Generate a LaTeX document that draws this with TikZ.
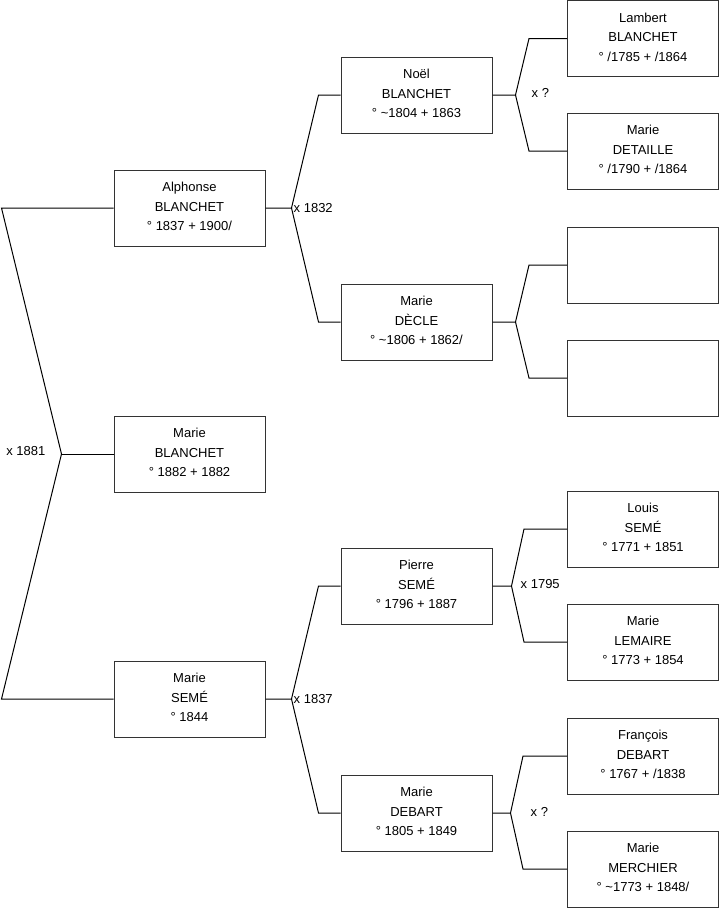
\documentclass[tikz,border=0pt]{standalone}
\usepackage{fontspec}
\setmainfont{Liberation Sans}
\usetikzlibrary{calc}

\tikzset{
  person/.style={draw=black!80,line width=1pt,minimum width=151pt,minimum height=76pt,
    align=center,inner sep=0pt,font=\fontsize{13}{19.5}\selectfont,
    execute at end node={\rule[-3pt]{0pt}{3pt}}},
  link/.style={line width=1pt,black},
  union/.style={inner sep=0pt,font=\fontsize{13}{15}\selectfont}
}

\begin{document}
\begin{tikzpicture}[x=1pt,y=-1pt]
  \useasboundingbox (0,0) rectangle (719,908);
  % generation 1
  \node[person] (alph) at (189.5,208) {Alphonse\\BLANCHET\\° 1837 + 1900/};
  \node[person] (mbla) at (189.5,454) {Marie\\BLANCHET\\° 1882 + 1882};
  \node[person] (mse) at (189.5,699) {Marie\\SEMÉ\\° 1844};
  % generation 2
  \node[person] (noel) at (416.5,95) {Noël\\BLANCHET\\° \textasciitilde1804 + 1863};
  \node[person] (decl) at (416.5,322) {Marie\\DÈCLE\\° \textasciitilde1806 + 1862/};
  \node[person] (pier) at (416.5,586) {Pierre\\SEMÉ\\° 1796 + 1887};
  \node[person] (deba) at (416.5,813) {Marie\\DEBART\\° 1805 + 1849};
  % generation 3
  \node[person] (lamb) at (643,38.5) {Lambert\\BLANCHET\\° /1785 + /1864};
  \node[person] (deta) at (643,151) {Marie\\DETAILLE\\° /1790 + /1864};
  \node[person] (unk1) at (643,265) {};
  \node[person] (unk2) at (643,378) {};
  \node[person] (loui) at (643,529) {Louis\\SEMÉ\\° 1771 + 1851};
  \node[person] (lema) at (643,642) {Marie\\LEMAIRE\\° 1773 + 1854};
  \node[person] (fran) at (643,756) {François\\DEBART\\° 1767 + /1838};
  \node[person] (merc) at (643,869) {Marie\\MERCHIER\\° \textasciitilde1773 + 1848/};

  % root fork
  \coordinate (r0) at ([xshift=-52pt]mbla.west);
  \draw[link] (alph.west) -- ([xshift=-112pt]alph.west) -- (r0) -- ([xshift=-112pt]mse.west) -- (mse.west);
  \draw[link] (r0) -- (mbla.west);
  \node[union,anchor=east] (m0) at ([xshift=-16pt,yshift=3pt]r0) {x 1881};

  % gen 1 to gen 2
  \draw[link] (alph.east) -- ++(26,0) coordinate (r1) -- ([xshift=-22pt]noel.west) -- (noel.west);
  \draw[link] (r1) -- ([xshift=-22pt]decl.west) -- (decl.west);
  \node[union,anchor=west] (m1) at ([xshift=2pt]r1) {x 1832};
  \draw[link] (mse.east) -- ++(26,0) coordinate (r2) -- ([xshift=-22pt]pier.west) -- (pier.west);
  \draw[link] (r2) -- ([xshift=-22pt]deba.west) -- (deba.west);
  \node[union,anchor=west] (m2) at ([xshift=2pt]r2) {x 1837};

  % gen 2 to gen 3
  \draw[link] (noel.east) -- ++(23,0) coordinate (r3) -- ([xshift=-38pt]lamb.west) -- (lamb.west);
  \draw[link] (r3) -- ([xshift=-38pt]deta.west) -- (deta.west);
  \node[union,anchor=west] (m3) at ([xshift=16pt,yshift=2pt]r3) {x ?};
  \draw[link] (decl.east) -- ++(23,0) coordinate (r4) -- ([xshift=-38pt]unk1.west) -- (unk1.west);
  \draw[link] (r4) -- ([xshift=-38pt]unk2.west) -- (unk2.west);
  \draw[link] (pier.east) -- ++(19,0) coordinate (r5) -- ([xshift=-43pt]loui.west) -- (loui.west);
  \draw[link] (r5) -- ([xshift=-43pt]lema.west) -- (lema.west);
  \node[union,anchor=west] (m5) at ([xshift=9pt,yshift=2pt]r5) {x 1795};
  \draw[link] (deba.east) -- ++(18,0) coordinate (r6) -- ([xshift=-44pt]fran.west) -- (fran.west);
  \draw[link] (r6) -- ([xshift=-44pt]merc.west) -- (merc.west);
  \node[union,anchor=west] (m6) at ([xshift=20pt,yshift=1pt]r6) {x ?};
\end{tikzpicture}
\end{document}
